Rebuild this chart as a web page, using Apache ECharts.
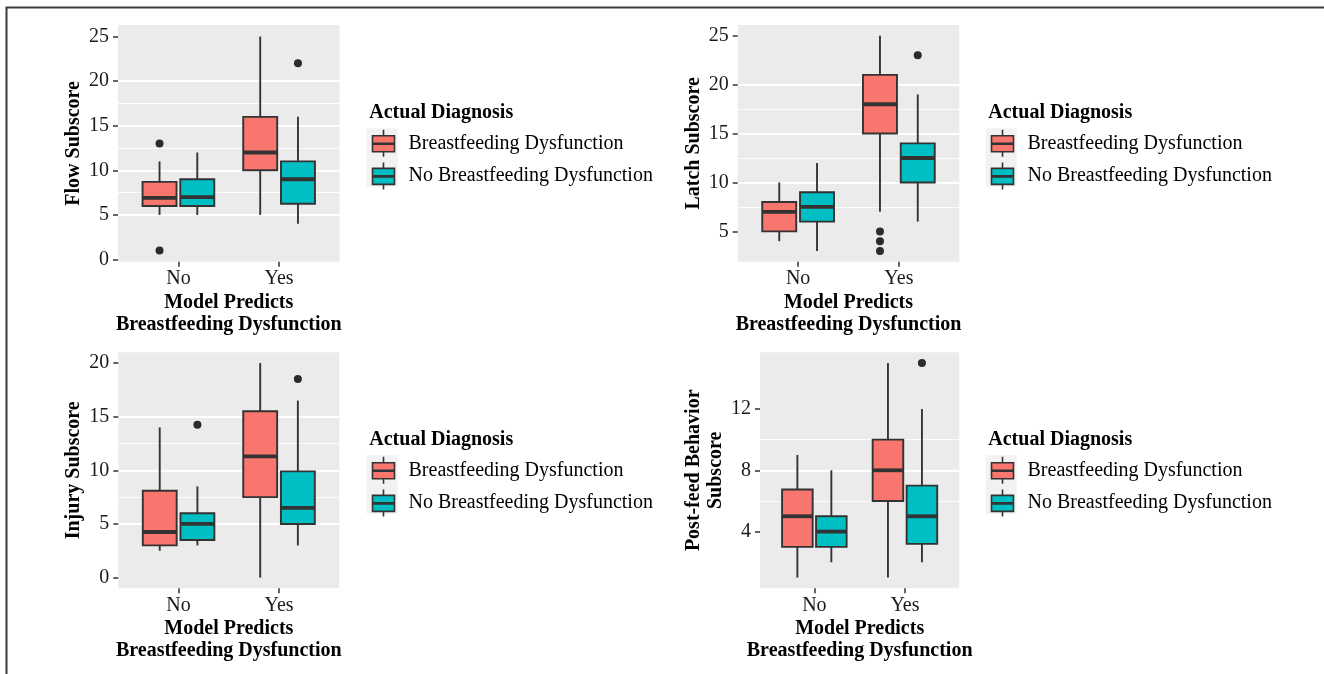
<!DOCTYPE html>
<html><head><meta charset="utf-8">
<script src="https://cdn.jsdelivr.net/npm/echarts@6/dist/echarts.min.js"></script>
<style>html,body{margin:0;padding:0;background:#fff}#c{width:1324px;height:674px}</style>
</head><body><div id="c"></div>
<script>
// ---------- DATA ----------
const categories = ['No', 'Yes'];
const groups = ['Breastfeeding Dysfunction', 'No Breastfeeding Dysfunction'];
const groupColors = ['#F8766D', '#00BFC4'];
const yTitles = ['Flow Subscore', 'Latch Subscore', 'Injury Subscore', 'Post-feed Behavior\nSubscore'];
const xTitle = 'Model Predicts\nBreastfeeding Dysfunction';
const legendTitle = 'Actual Diagnosis';

// box stats per category (No, Yes): [lower whisker, Q1, median, Q3, upper whisker]
const flowBD = [[5, 6, 6.9, 8.7, 11], [5, 10, 12, 16, 25]];
const flowNBD = [[5, 6, 7, 9, 12], [4, 6.25, 9, 11, 16]];
const flowOutBD = [[13, 1], []];
const flowOutNBD = [[], [22]];

const latchBD = [[4, 5, 7, 8, 10], [7, 15, 18, 21, 25]];
const latchNBD = [[3, 6, 7.5, 9, 12], [6, 10, 12.5, 14, 19]];
const latchOutBD = [[], [5, 4, 3]];
const latchOutNBD = [[], [23]];

const injuryBD = [[2.5, 3, 4.25, 8.1, 14], [0, 7.5, 11.3, 15.5, 20]];
const injuryNBD = [[3, 3.5, 5, 6, 8.5], [3, 5, 6.5, 9.9, 16.5]];
const injuryOutBD = [[], []];
const injuryOutNBD = [[14.25], [18.5]];

const postBD = [[1, 3, 5, 6.75, 9], [1, 6, 8, 10, 15]];
const postNBD = [[2, 3, 4, 5, 8], [2, 3.2, 5, 7, 12]];
const postOutBD = [[], []];
const postOutNBD = [[], [15]];

// tick labels / grid values
const flowTicks = [0, 5, 10, 15, 20, 25];
const flowMinor = [2.5, 7.5, 12.5, 17.5, 22.5];
const latchTicks = [5, 10, 15, 20, 25];
const latchMinor = [2.5, 7.5, 12.5, 17.5, 22.5];
const injuryTicks = [0, 5, 10, 15, 20];
const injuryMinor = [2.5, 7.5, 12.5, 17.5];
const postTicks = [4, 8, 12];
const postMinor = [2, 6, 10, 14];

const flowRange = [-0.25, 26.3];
const latchRange = [1.9, 26.1];
const injuryRange = [-1, 21];
const postRange = [0.3, 15.7];

// ---------- LAYOUT ----------
const FONT = 'Liberation Serif';
const DODGE = 0.1875, BOX_W = 0.3375;
const panels = [
  {box: [flowBD, flowNBD], out: [flowOutBD, flowOutNBD], ticks: flowTicks, minor: flowMinor, range: flowRange,
   grid: {left: 118, top: 25, width: 221.5, height: 236.7}, lx: 0, ly: 0},
  {box: [latchBD, latchNBD], out: [latchOutBD, latchOutNBD], ticks: latchTicks, minor: latchMinor, range: latchRange,
   grid: {left: 737.7, top: 25, width: 221.6, height: 236.7}, lx: 619, ly: 0},
  {box: [injuryBD, injuryNBD], out: [injuryOutBD, injuryOutNBD], ticks: injuryTicks, minor: injuryMinor, range: injuryRange,
   grid: {left: 118.3, top: 352.3, width: 221, height: 236}, lx: 0, ly: 327},
  {box: [postBD, postNBD], out: [postOutBD, postOutNBD], ticks: postTicks, minor: postMinor, range: postRange,
   grid: {left: 760, top: 352.3, width: 199.3, height: 236}, lx: 619, ly: 327}
];

function renderBox(params, api) {
  const x = api.value(0);
  const lo = api.coord([x, api.value(1)]);
  const q1 = api.coord([x, api.value(2)]);
  const md = api.coord([x, api.value(3)]);
  const q3 = api.coord([x, api.value(4)]);
  const hi = api.coord([x, api.value(5)]);
  const w = api.size([BOX_W, 0])[0];
  const cx = lo[0];
  const fill = api.visual('color');
  const ws = {stroke: '#333333', lineWidth: 1.9};
  return {type: 'group', children: [
    {type: 'line', shape: {x1: cx, y1: hi[1], x2: cx, y2: q3[1]}, style: ws},
    {type: 'line', shape: {x1: cx, y1: q1[1], x2: cx, y2: lo[1]}, style: ws},
    {type: 'rect', shape: {x: cx - w / 2, y: q3[1], width: w, height: q1[1] - q3[1]},
     style: {fill: fill, stroke: '#333333', lineWidth: 1.9}},
    {type: 'line', shape: {x1: cx - w / 2, y1: md[1], x2: cx + w / 2, y2: md[1]},
     style: {stroke: '#333333', lineWidth: 3.8}}
  ]};
}

const catPos = categories.map((c, i) => i + 1);
const grid = [], xAxis = [], yAxis = [], series = [], legend = [], title = [], graphic = [];
const legendIcon = 'path://M0,6L22,6L22,22L0,22ZM11,0L11,6M11,22L11,27M0,13.5L22,13.5L22,14.5L0,14.5Z';

panels.forEach((p, i) => {
  grid.push(Object.assign({show: true, backgroundColor: '#EBEBEB', borderWidth: 0, containLabel: false}, p.grid));
  xAxis.push({
    type: 'value', gridIndex: i, min: 0.4, max: 2.6,
    axisLine: {show: false, onZero: false},
    axisTick: {show: true, customValues: catPos, length: 5, lineStyle: {color: '#333333', width: 1.5}},
    axisLabel: {customValues: catPos, formatter: v => categories[Math.round(v) - 1] || '',
      fontFamily: FONT, fontSize: 20, color: '#1a1a1a', margin: 7},
    splitLine: {show: true, showMinLine: false, showMaxLine: false, lineStyle: {color: '#ffffff', width: 1.8}},
    name: xTitle, nameLocation: 'middle', nameGap: 30,
    nameTextStyle: {fontFamily: FONT, fontWeight: 'bold', fontSize: 20, lineHeight: 22, color: '#000'}
  });
  yAxis.push({
    type: 'value', gridIndex: i, min: p.range[0], max: p.range[1],
    axisLine: {show: false, onZero: false},
    axisTick: {show: true, customValues: p.ticks, length: 5, lineStyle: {color: '#333333', width: 1.5}},
    axisLabel: {customValues: p.ticks, fontFamily: FONT, fontSize: 20, color: '#1a1a1a', margin: 9},
    splitLine: {show: true, showMinLine: false, showMaxLine: false, lineStyle: {color: '#ffffff', width: 1.8}},
    name: yTitles[i], nameLocation: 'middle', nameGap: 33,
    nameTextStyle: {fontFamily: FONT, fontWeight: 'bold', fontSize: 20, lineHeight: 22, color: '#000'}
  });
  yAxis.push({
    type: 'value', gridIndex: i, min: p.range[0], max: p.range[1],
    axisLine: {show: false, onZero: false},
    axisTick: {show: false, customValues: p.minor},
    axisLabel: {show: false, customValues: p.minor},
    splitLine: {show: true, showMinLine: false, showMaxLine: false, lineStyle: {color: '#ffffff', width: 0.9}}
  });
  groups.forEach((g, gi) => {
    const off = gi === 0 ? -DODGE : DODGE;
    series.push({
      type: 'custom', name: g, xAxisIndex: i, yAxisIndex: 2 * i, z: 3,
      itemStyle: {color: groupColors[gi]},
      encode: {x: 0, y: [1, 2, 3, 4, 5]},
      renderItem: renderBox,
      data: p.box[gi].map((s, ci) => [catPos[ci] + off].concat(s))
    });
    const pts = [];
    p.out[gi].forEach((vals, ci) => vals.forEach(v => pts.push([catPos[ci] + off, v])));
    series.push({
      type: 'scatter', name: 'outliers-' + i + '-' + gi, xAxisIndex: i, yAxisIndex: 2 * i, z: 4,
      symbol: 'circle', symbolSize: 8, itemStyle: {color: '#2b2b2b', opacity: 1}, silent: true,
      data: pts
    });
  });
  legend.push({
    orient: 'vertical', left: 371.7 + p.lx, top: 129 + p.ly, padding: 0,
    itemWidth: 22, itemHeight: 27, itemGap: 4, icon: legendIcon,
    itemStyle: {borderColor: '#333333', borderWidth: 1.6},
    data: groups, selectedMode: false,
    textStyle: {fontFamily: FONT, fontSize: 20, color: '#000', padding: [0, 0, 0, 9]}
  });
  title.push({
    text: legendTitle, left: 369.3 + p.lx, top: 101.5 + p.ly, padding: 0,
    textStyle: {fontFamily: FONT, fontWeight: 'bold', fontSize: 20, lineHeight: 22, color: '#000'}
  });
  graphic.push({type: 'rect', z: 1, shape: {x: 366.7 + p.lx, y: 128.3 + p.ly, width: 31, height: 58.4},
    style: {fill: '#F2F2F2'}});
});

graphic.push({type: 'polyline', z: 10, shape: {points: [[6.5, 674], [6.5, 7.5], [1324, 7.5]]},
  style: {stroke: '#3a3a3a', lineWidth: 2, fill: null}});

const chart = echarts.init(document.getElementById('c'), null, {renderer: 'canvas'});
chart.setOption({
  animation: false,
  backgroundColor: '#ffffff',
  grid, xAxis, yAxis, series, legend, title, graphic
});
</script>
</body></html>
